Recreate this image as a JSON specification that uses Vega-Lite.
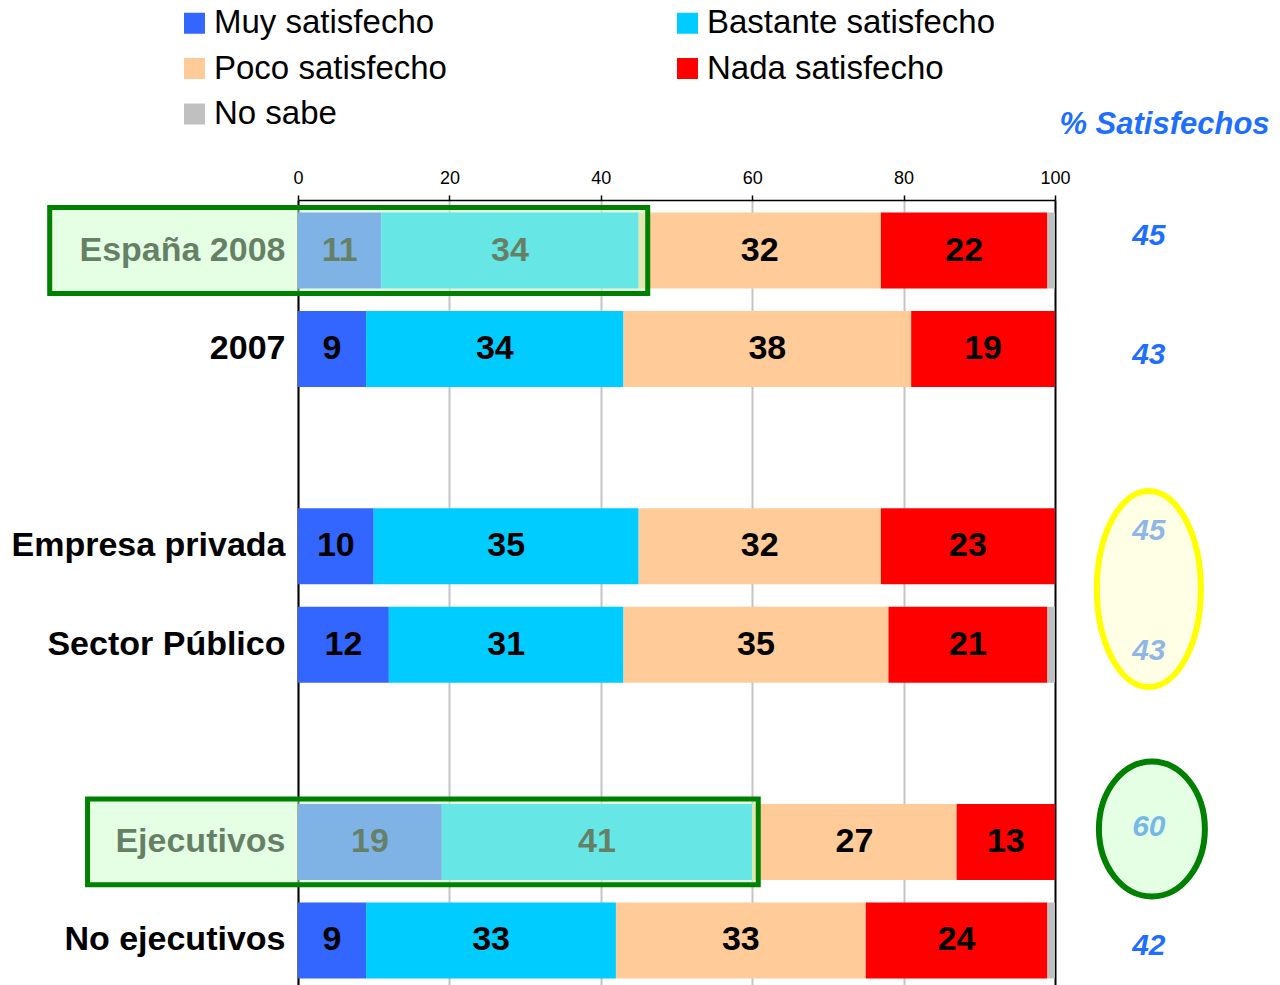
{
  "$schema": "https://vega.github.io/schema/vega-lite/v6.json",
  "width": 757,
  "height": 785,
  "autosize": {"type": "none"},
  "padding": {"left": 298, "top": 200, "right": 225, "bottom": 0},
  "background": "white",
  "config": {"view": {"stroke": null}, "font": "Liberation Sans"},
  "datasets": {
    "bars": [
      {"row": "España 2008", "cat": "Muy satisfecho", "v": 11},
      {"row": "España 2008", "cat": "Bastante satisfecho", "v": 34},
      {"row": "España 2008", "cat": "Poco satisfecho", "v": 32},
      {"row": "España 2008", "cat": "Nada satisfecho", "v": 22},
      {"row": "España 2008", "cat": "No sabe", "v": 1},
      {"row": "2007", "cat": "Muy satisfecho", "v": 9},
      {"row": "2007", "cat": "Bastante satisfecho", "v": 34},
      {"row": "2007", "cat": "Poco satisfecho", "v": 38},
      {"row": "2007", "cat": "Nada satisfecho", "v": 19},
      {"row": "2007", "cat": "No sabe", "v": 0},
      {"row": "Empresa privada", "cat": "Muy satisfecho", "v": 10},
      {"row": "Empresa privada", "cat": "Bastante satisfecho", "v": 35},
      {"row": "Empresa privada", "cat": "Poco satisfecho", "v": 32},
      {"row": "Empresa privada", "cat": "Nada satisfecho", "v": 23},
      {"row": "Empresa privada", "cat": "No sabe", "v": 0},
      {"row": "Sector Público", "cat": "Muy satisfecho", "v": 12},
      {"row": "Sector Público", "cat": "Bastante satisfecho", "v": 31},
      {"row": "Sector Público", "cat": "Poco satisfecho", "v": 35},
      {"row": "Sector Público", "cat": "Nada satisfecho", "v": 21},
      {"row": "Sector Público", "cat": "No sabe", "v": 1},
      {"row": "Ejecutivos", "cat": "Muy satisfecho", "v": 19},
      {"row": "Ejecutivos", "cat": "Bastante satisfecho", "v": 41},
      {"row": "Ejecutivos", "cat": "Poco satisfecho", "v": 27},
      {"row": "Ejecutivos", "cat": "Nada satisfecho", "v": 13},
      {"row": "Ejecutivos", "cat": "No sabe", "v": 0},
      {"row": "No ejecutivos", "cat": "Muy satisfecho", "v": 9},
      {"row": "No ejecutivos", "cat": "Bastante satisfecho", "v": 33},
      {"row": "No ejecutivos", "cat": "Poco satisfecho", "v": 33},
      {"row": "No ejecutivos", "cat": "Nada satisfecho", "v": 24},
      {"row": "No ejecutivos", "cat": "No sabe", "v": 1}
    ],
    "sat": [
      {"row": "España 2008", "v": 45},
      {"row": "2007", "v": 43},
      {"row": "Empresa privada", "v": 45},
      {"row": "Sector Público", "v": 43},
      {"row": "Ejecutivos", "v": 60},
      {"row": "No ejecutivos", "v": 42}
    ],
    "boxes": [
      {"row": "España 2008", "from": -32.8, "to": 46.2},
      {"row": "Ejecutivos", "from": -27.8, "to": 60.8}
    ]
  },
  "encoding": {
    "y": {
      "field": "row",
      "type": "nominal",
      "scale": {
        "domain": ["España 2008", "2007", " ", "Empresa privada", "Sector Público", "  ", "Ejecutivos", "No ejecutivos"],
        "range": [0, 791],
        "paddingInner": 0.229,
        "paddingOuter": 0.127
      },
      "axis": {
        "title": null,
        "labelFontSize": 34,
        "labelFontWeight": "bold",
        "labelColor": "black",
        "labelPadding": 13,
        "ticks": false,
        "domainColor": "black",
        "domainWidth": 2,
        "grid": false,
        "labelLimit": 400
      }
    }
  },
  "layer": [
    {
      "data": {"name": "bars"},
      "transform": [
        {"calculate": "indexof(['Muy satisfecho','Bastante satisfecho','Poco satisfecho','Nada satisfecho','No sabe'], datum.cat)", "as": "k"}
      ],
      "mark": {"type": "bar"},
      "encoding": {
        "x": {
          "field": "v",
          "type": "quantitative",
          "stack": "zero",
          "scale": {"domain": [0, 100], "nice": false},
          "axis": {
            "orient": "top",
            "values": [0, 20, 40, 60, 80, 100],
            "labelFontSize": 18,
            "labelColor": "black",
            "labelPadding": 8,
            "labelFlush": false,
            "tickSize": 5,
            "tickColor": "black",
            "tickWidth": 1.5,
            "domainColor": "black",
            "domainWidth": 1.5,
            "grid": true,
            "gridColor": {"condition": {"test": "datum.value === 100", "value": "black"}, "value": "#c4c4c4"},
            "gridWidth": 2,
            "title": "% Satisfechos",
            "titleX": 866,
            "titleY": -67,
            "titleFontSize": 31,
            "titleFontStyle": "italic",
            "titleFontWeight": "bold",
            "titleColor": "#1f6fff",
            "titleAlign": "center",
            "titleBaseline": "alphabetic",
            "titleAngle": 0
          }
        },
        "order": {"field": "k", "type": "quantitative"},
        "color": {
          "field": "cat",
          "type": "nominal",
          "scale": {
            "domain": ["Muy satisfecho", "Poco satisfecho", "No sabe", "Bastante satisfecho", "Nada satisfecho"],
            "range": ["#3366ff", "#ffcc99", "#c0c0c0", "#00ccff", "#ff0000"]
          },
          "legend": {
            "title": null,
            "orient": "none",
            "legendX": -120,
            "legendY": -193.5,
            "columns": 2,
            "columnPadding": 224,
            "rowPadding": 11.5,
            "symbolType": "square",
            "symbolSize": 441,
            "symbolStrokeWidth": 0,
            "symbolOpacity": 1,
            "labelFontSize": 33,
            "labelFont": "Liberation Sans",
            "labelColor": "black",
            "labelOffset": 3,
            "labelLimit": 400,
            "padding": 0
          }
        }
      }
    },
    {
      "data": {"name": "bars"},
      "transform": [
        {"calculate": "indexof(['Muy satisfecho','Bastante satisfecho','Poco satisfecho','Nada satisfecho','No sabe'], datum.cat)", "as": "k"},
        {"filter": "datum.cat !== 'No sabe'"}
      ],
      "mark": {"type": "text", "fontSize": 34, "fontWeight": "bold", "color": "black", "baseline": "middle", "align": "center"},
      "encoding": {
        "x": {"field": "v", "type": "quantitative", "stack": "zero", "bandPosition": 0.5},
        "detail": {"field": "cat"},
        "order": {"field": "k", "type": "quantitative"},
        "text": {"field": "v", "type": "quantitative"}
      }
    },
    {
      "data": {"name": "sat"},
      "transform": [{"filter": {"field": "row", "oneOf": ["España 2008", "Empresa privada", "Ejecutivos"]}}],
      "mark": {"type": "text", "fontSize": 30, "fontWeight": "bold", "fontStyle": "italic", "color": "#1f6fff", "baseline": "middle", "align": "center", "dy": -15},
      "encoding": {
        "x": {"datum": 112.4, "type": "quantitative"},
        "text": {"field": "v", "type": "quantitative"}
      }
    },
    {
      "data": {"name": "sat"},
      "transform": [{"filter": {"field": "row", "oneOf": ["2007", "Sector Público", "No ejecutivos"]}}],
      "mark": {"type": "text", "fontSize": 30, "fontWeight": "bold", "fontStyle": "italic", "color": "#1f6fff", "baseline": "middle", "align": "center", "dy": 6},
      "encoding": {
        "x": {"datum": 112.4, "type": "quantitative"},
        "text": {"field": "v", "type": "quantitative"}
      }
    },
    {
      "data": {"values": [{"row": "Empresa privada"}]},
      "mark": {
        "type": "point",
        "shape": "M -0.531 0 A 0.531 1 0 1 0 0.531 0 A 0.531 1 0 1 0 -0.531 0 Z",
        "size": 38416,
        "filled": true,
        "fill": "#ffffcc",
        "fillOpacity": 0.5,
        "stroke": "#ffff00",
        "strokeWidth": 6,
        "strokeOpacity": 1,
        "opacity": 1
      },
      "encoding": {
        "x": {"datum": 112.4, "type": "quantitative"},
        "y": {"field": "row", "type": "nominal", "bandPosition": 1.063}
      }
    },
    {
      "data": {"values": [{"row": "Ejecutivos"}]},
      "mark": {
        "type": "point",
        "shape": "M -0.785 0 A 0.785 1 0 1 0 0.785 0 A 0.785 1 0 1 0 -0.785 0 Z",
        "size": 18225,
        "filled": true,
        "fill": "#ccffcc",
        "fillOpacity": 0.5,
        "stroke": "#008000",
        "strokeWidth": 6,
        "strokeOpacity": 1,
        "opacity": 1
      },
      "encoding": {
        "x": {"datum": 112.8, "type": "quantitative"},
        "y": {"field": "row", "type": "nominal", "bandPosition": 0.33}
      }
    },
    {
      "data": {"name": "boxes"},
      "mark": {
        "type": "bar",
        "height": {"band": 1.13},
        "fill": "#ccffcc",
        "fillOpacity": 0.5,
        "stroke": "#008000",
        "strokeWidth": 5
      },
      "encoding": {
        "x": {"field": "from", "type": "quantitative"},
        "x2": {"field": "to"}
      }
    }
  ]
}
